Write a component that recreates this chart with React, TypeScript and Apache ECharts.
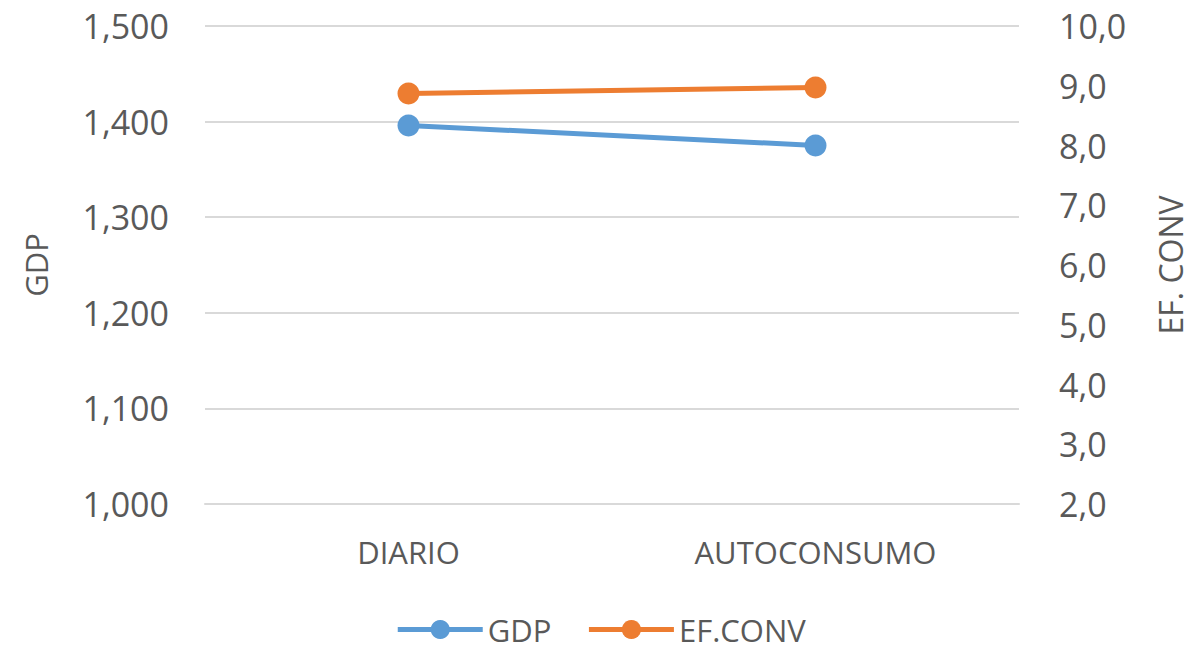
import React, { useEffect, useRef } from "react";
import * as echarts from "echarts";

const categories = ["DIARIO", "AUTOCONSUMO"];
const gdpValues = [1396, 1375];
const efConvValues = [8.87, 8.97];
const leftTicks = { min: 1000, max: 1500, interval: 100 };
const rightTicks = { min: 2, max: 10, interval: 1 };

const FONT = "'Open Sans', sans-serif";
const TEXT = "#595959";

export default function App() {
  const ref = useRef<HTMLDivElement>(null);
  useEffect(() => {
    if (!ref.current) return;
    const chart = echarts.init(ref.current, undefined, { renderer: "svg" });
    chart.setOption({
      animation: false,
      textStyle: { fontFamily: FONT },
      grid: { left: 205, right: 182, top: 26, bottom: 146 },
      legend: {
        bottom: 0,
        left: "center",
        itemWidth: 85,
        itemHeight: 24,
        itemGap: 35,
        lineStyle: { width: 5 },
        textStyle: { fontFamily: FONT, fontSize: 31, color: TEXT },
        data: ["GDP", "EF.CONV"],
      },
      xAxis: {
        type: "category",
        data: categories,
        boundaryGap: true,
        axisLine: { show: true, lineStyle: { color: "#D9D9D9", width: 2 } },
        axisTick: { show: false },
        axisLabel: { margin: 32, fontSize: 31, color: TEXT, fontFamily: FONT },
      },
      yAxis: [
        {
          type: "value",
          min: leftTicks.min,
          max: leftTicks.max,
          interval: leftTicks.interval,
          name: "GDP",
          nameLocation: "middle",
          nameRotate: 90,
          nameGap: 154,
          nameTextStyle: { fontSize: 31, color: TEXT, fontFamily: FONT },
          axisLine: { show: false },
          axisTick: { show: false },
          splitLine: { show: true, lineStyle: { color: "#D9D9D9", width: 2 } },
          axisLabel: {
            margin: 36,
            fontSize: 34,
            color: TEXT,
            fontFamily: FONT,
            formatter: (v: number) => v.toLocaleString("en-US"),
          },
        },
        {
          type: "value",
          min: rightTicks.min,
          max: rightTicks.max,
          interval: rightTicks.interval,
          name: "EF. CONV",
          nameLocation: "middle",
          nameRotate: 90,
          nameGap: 135,
          nameTextStyle: { fontSize: 32, color: TEXT, fontFamily: FONT },
          axisLine: { show: false },
          axisTick: { show: false },
          splitLine: { show: false },
          axisLabel: {
            margin: 40,
            fontSize: 34,
            color: TEXT,
            fontFamily: FONT,
            formatter: (v: number) => v.toFixed(1).replace(".", ","),
          },
        },
      ],
      series: [
        {
          name: "GDP",
          type: "line",
          yAxisIndex: 0,
          data: gdpValues,
          symbol: "circle",
          symbolSize: 22,
          lineStyle: { color: "#5B9BD5", width: 5 },
          itemStyle: { color: "#5B9BD5" },
        },
        {
          name: "EF.CONV",
          type: "line",
          yAxisIndex: 1,
          data: efConvValues,
          symbol: "circle",
          symbolSize: 22,
          lineStyle: { color: "#ED7D31", width: 5 },
          itemStyle: { color: "#ED7D31" },
        },
      ],
    });
    return () => chart.dispose();
  }, []);
  return (
    <div
      ref={ref}
      style={{ position: "fixed", left: 0, top: 0, width: 1201, height: 650, background: "#fff" }}
    />
  );
}
